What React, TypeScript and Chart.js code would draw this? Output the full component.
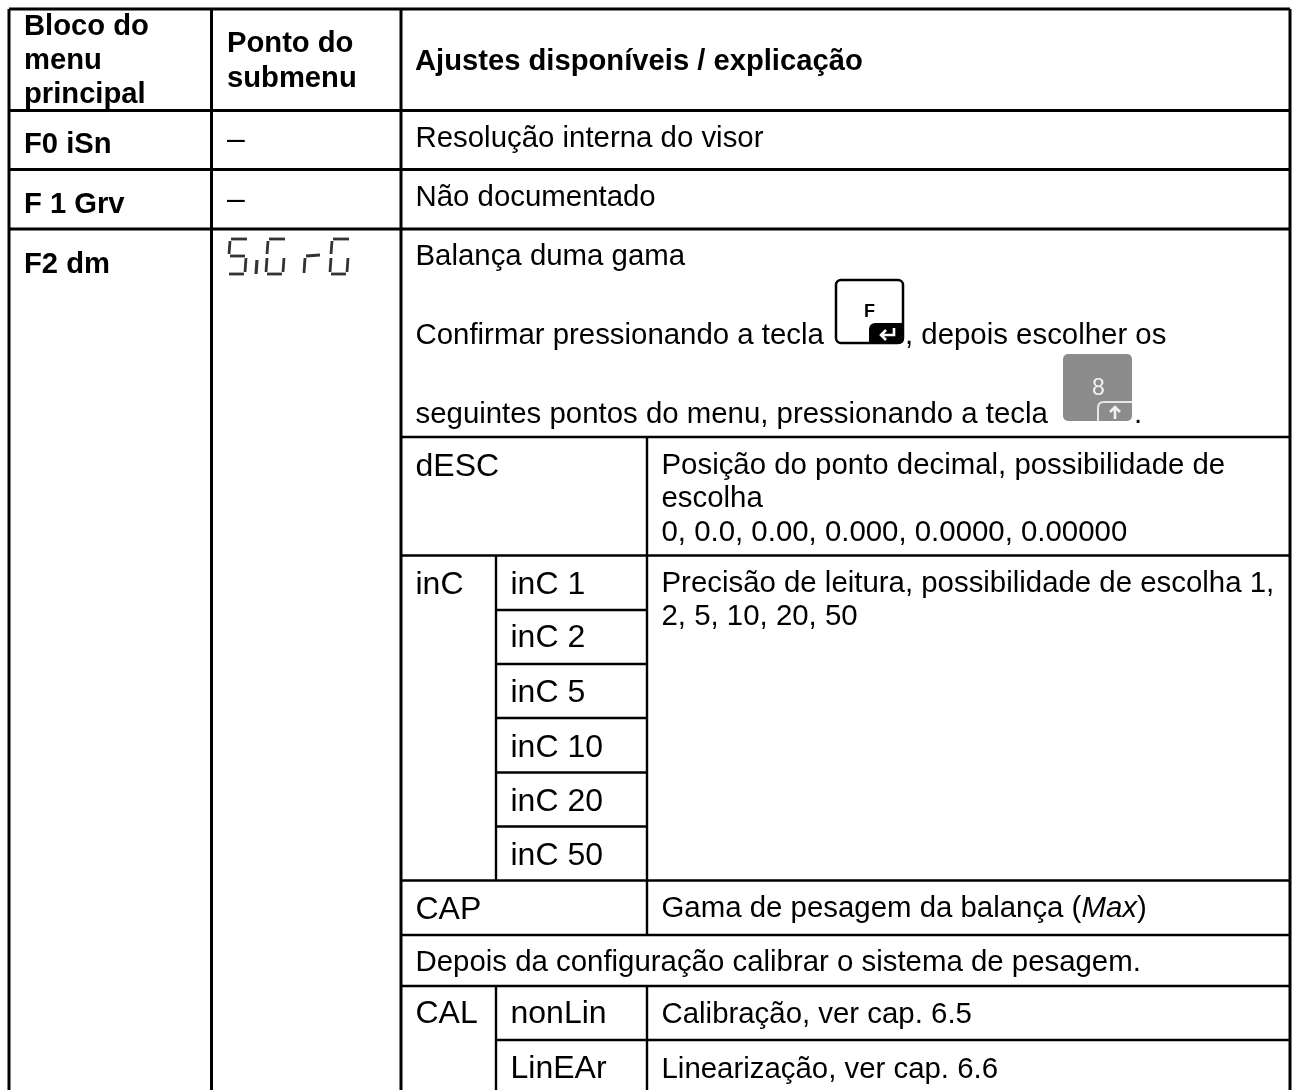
import React, { useEffect, useRef } from "react";
import { Chart, registerables } from "chart.js";

Chart.register(...registerables);

const headerCol1 = ["Bloco do", "menu", "principal"];
const headerCol2 = ["Ponto do", "submenu"];
const headerCol3 = ["Ajustes disponíveis / explicação"];
const blockLabels = ["F0 iSn", "F 1 Grv", "F2 dm"];
const subLabels = ["–", "–"];
const descLines = ["Resolução interna do visor", "Não documentado", "Balança duma gama"];
const confirmParts = ["Confirmar pressionando a tecla", ", depois escolher os", "seguintes pontos do menu, pressionando a tecla", "."];
const decimalLines = ["Posição do ponto decimal, possibilidade de", "escolha", "0, 0.0, 0.00, 0.000, 0.0000, 0.00000"];
const incValues = ["inC 1", "inC 2", "inC 5", "inC 10", "inC 20", "inC 50"];
const readLines = ["Precisão de leitura, possibilidade de escolha 1,", "2, 5, 10, 20, 50"];

const X = { l: 9, a: 211.5, b: 401, c: 496, d: 647, r: 1290 };
const Y = { t: 9, h: 110.5, r1: 169.5, r2: 229, r3: 437, r4: 555.5, i1: 610, i2: 664, i3: 718, i4: 772.5, i5: 826.5, r5: 880.5, r6: 935, r7: 986, r8: 1040, b: 1090 };

const seg = (x1: number, y1: number, x2: number, y2: number) => [{ x: x1, y: y1 }, { x: x2, y: y2 }, { x: NaN, y: NaN }];

const outerSegs = [
  seg(X.l, Y.t, X.r, Y.t), seg(X.l, Y.t, X.l, Y.b), seg(X.r, Y.t, X.r, Y.b),
  seg(X.a, Y.t, X.a, Y.b), seg(X.b, Y.t, X.b, Y.b),
  seg(X.l, Y.h, X.r, Y.h), seg(X.l, Y.r1, X.r, Y.r1), seg(X.l, Y.r2, X.r, Y.r2),
].flat();
const innerSegs = [
  seg(X.b, Y.r3, X.r, Y.r3), seg(X.b, Y.r4, X.r, Y.r4), seg(X.b, Y.r5, X.r, Y.r5),
  seg(X.b, Y.r6, X.r, Y.r6), seg(X.b, Y.r7, X.r, Y.r7), seg(X.c, Y.r8, X.r, Y.r8),
  seg(X.c, Y.i1, X.d, Y.i1), seg(X.c, Y.i2, X.d, Y.i2), seg(X.c, Y.i3, X.d, Y.i3),
  seg(X.c, Y.i4, X.d, Y.i4), seg(X.c, Y.i5, X.d, Y.i5),
  seg(X.d, Y.r3, X.d, Y.r6), seg(X.d, Y.r7, X.d, Y.b),
  seg(X.c, Y.r4, X.c, Y.r5), seg(X.c, Y.r7, X.c, Y.b),
].flat();

const FONT = "'Liberation Sans', Arial, sans-serif";
const BODY = 29.4;
const CODE = 32;
const HEAD = 29.2;

const tablePlugin = {
  id: "tableText",
  afterDatasetsDraw(chart: any) {
    const { ctx } = chart;
    const sx = chart.scales.x, sy = chart.scales.y;
    const T = (s: string, x: number, y: number, size = BODY, style = "") => {
      ctx.font = `${style} ${size}px ${FONT}`;
      ctx.fillStyle = "#000";
      ctx.textBaseline = "alphabetic";
      ctx.fillText(s, sx.getPixelForValue(x), sy.getPixelForValue(y));
      return ctx.measureText(s).width;
    };
    ctx.save();
    [35, 69, 103].forEach((y, i) => T(headerCol1[i], 24, y, HEAD, "bold"));
    [52, 87].forEach((y, i) => T(headerCol2[i], 227, y, HEAD, "bold"));
    T(headerCol3[0], 415, 70, HEAD, "bold");
    [153, 213, 273].forEach((y, i) => T(blockLabels[i], 24, y, HEAD, "bold"));
    T(subLabels[0], 227, 149, CODE);
    T(subLabels[1], 227, 209, CODE);
    T(descLines[0], 415.5, 147);
    T(descLines[1], 415.5, 206);
    T(descLines[2], 415.5, 265);
    T(confirmParts[0], 415.5, 344);
    T(confirmParts[1], 905, 344);
    T(confirmParts[2], 415.5, 423);
    T(confirmParts[3], 1134, 423);
    T("dESC", 415.5, 476, CODE);
    [473.5, 506.5, 541].forEach((y, i) => T(decimalLines[i], 661.5, y));
    T("inC", 415.5, 594, CODE);
    [594, 647, 702, 757, 811, 865].forEach((y, i) => T(incValues[i], 510.5, y, CODE));
    [592, 625].forEach((y, i) => T(readLines[i], 661.5, y));
    T("CAP", 415.5, 919, CODE);
    let cx = 661.5;
    cx += T("Gama de pesagem da balança (", cx, 917);
    cx += T("Max", cx, 917, BODY, "italic");
    T(")", cx, 917);
    T("Depois da configuração calibrar o sistema de pesagem.", 415.5, 971);
    T("CAL", 415.5, 1023, CODE);
    T("nonLin", 510.5, 1023, CODE);
    T("Calibração, ver cap. 6.5", 661.5, 1023);
    T("LinEAr", 510.5, 1078, CODE);
    T("Linearização, ver cap. 6.6", 661.5, 1078);

    const segment = (pts: number[][]) => {
      ctx.beginPath();
      pts.forEach((p, i) => (i ? ctx.lineTo(p[0], p[1]) : ctx.moveTo(p[0], p[1])));
      ctx.stroke();
    };
    ctx.strokeStyle = "#333";
    ctx.lineWidth = 2.8;
    ctx.lineCap = "butt";
    ctx.filter = "blur(0.7px)";
    const digit = (x: number, on: string) => {
      const t = 239, m = 256, bt = 274, w = 18;
      if (on.includes("a")) segment([[x + 2, t], [x + w, t]]);
      if (on.includes("f")) segment([[x + 1, t + 2], [x, m - 2]]);
      if (on.includes("g")) segment([[x + 1, m], [x + w - 2, m]]);
      if (on.includes("c")) segment([[x + w - 1, m + 2], [x + w - 2, bt - 2]]);
      if (on.includes("e")) segment([[x, m + 2], [x - 1, bt - 2]]);
      if (on.includes("d")) segment([[x, bt], [x + w - 3, bt]]);
    };
    digit(229, "afgcd");
    ctx.lineWidth = 3.2;
    segment([[257, 260], [256, 274]]);
    ctx.lineWidth = 2.8;
    digit(267, "afecd");
    segment([[305, 258], [304, 273]]);
    segment([[306, 256], [320, 255]]);
    digit(331, "afecd");
    ctx.filter = "none";

    ctx.strokeStyle = "#000";
    ctx.fillStyle = "#000";
    ctx.lineWidth = 2.5;
    ctx.beginPath();
    ctx.roundRect(836, 280, 67, 63, 5);
    ctx.stroke();
    ctx.beginPath();
    ctx.roundRect(869, 323, 35, 21, [6, 0, 5, 0]);
    ctx.fill();
    ctx.font = `bold 18px ${FONT}`;
    ctx.fillText("F", 864, 317);
    ctx.strokeStyle = "#fff";
    ctx.lineWidth = 2.6;
    ctx.beginPath();
    ctx.moveTo(894, 328); ctx.lineTo(894, 335); ctx.lineTo(881, 335);
    ctx.moveTo(886, 330); ctx.lineTo(881, 335); ctx.lineTo(886, 340);
    ctx.stroke();

    ctx.fillStyle = "#8c8c8c";
    ctx.beginPath();
    ctx.roundRect(1063, 354, 69, 67, 5);
    ctx.fill();
    ctx.fillStyle = "#f2f2f2";
    ctx.font = `23px ${FONT}`;
    ctx.fillText("8", 1092, 395);
    ctx.strokeStyle = "#e6e6e6";
    ctx.lineWidth = 2;
    ctx.beginPath();
    ctx.moveTo(1098, 421); ctx.lineTo(1098, 408);
    ctx.quadraticCurveTo(1098, 402, 1104, 402);
    ctx.lineTo(1132, 402);
    ctx.stroke();
    ctx.lineWidth = 2.6;
    ctx.strokeStyle = "#f2f2f2";
    ctx.beginPath();
    ctx.moveTo(1115, 419); ctx.lineTo(1115, 407);
    ctx.moveTo(1110, 412); ctx.lineTo(1115, 407); ctx.lineTo(1120, 412);
    ctx.stroke();
    ctx.restore();
  },
};

export default function App() {
  const ref = useRef<HTMLCanvasElement>(null);
  useEffect(() => {
    const chart = new Chart(ref.current!, {
      type: "scatter",
      data: {
        datasets: [
          { data: outerSegs, showLine: true, spanGaps: false, borderColor: "#000", borderWidth: 3, pointRadius: 0 },
          { data: innerSegs, showLine: true, spanGaps: false, borderColor: "#000", borderWidth: 2.4, pointRadius: 0 },
        ],
      },
      options: {
        animation: false,
        responsive: false,
        layout: { padding: 0 },
        plugins: { legend: { display: false }, tooltip: { enabled: false } },
        scales: {
          x: { type: "linear", min: 0, max: 1292, display: false },
          y: { type: "linear", min: 0, max: 1090, reverse: true, display: false },
        },
      },
      plugins: [tablePlugin],
    });
    return () => chart.destroy();
  }, []);
  return (
    <canvas
      ref={ref}
      width={1292}
      height={1090}
      style={{ position: "absolute", left: 0, top: 0, width: 1292, height: 1090, display: "block", background: "#fff" }}
    />
  );
}
